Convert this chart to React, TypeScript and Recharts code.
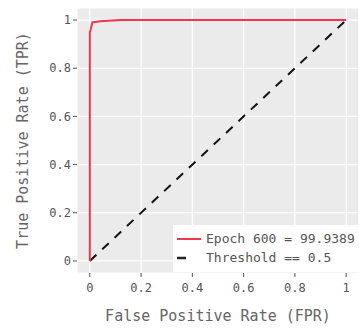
import { CartesianGrid, Line, LineChart, XAxis, YAxis } from "recharts"

const fpr = [0, 0, 0.003, 0.01, 0.04, 0.12, 0.5, 1]
const tpr = [0, 0.95, 0.96, 0.99, 0.995, 1, 1, 1]
const chanceFpr = [0, 1]
const chanceTpr = [0, 1]
const ticks = [0, 0.2, 0.4, 0.6, 0.8, 1]
const epochLabel = "Epoch 600 = 99.9389"
const thresholdLabel = "Threshold == 0.5"

const rocData = fpr.map((x, i) => ({ x, y: tpr[i] }))
const chanceData = chanceFpr.map((x, i) => ({ x, y: chanceTpr[i] }))

const mono = "'DejaVu Sans Mono', monospace"

// legend drawn on top of the panel, bottom right like ggplot's inside legend
function LegendBox() {
  return (
    <div
      style={{
        position: "absolute",
        left: 173,
        top: 225,
        background: "#fff",
        width: 186,
        height: 47,
        fontFamily: mono,
        fontSize: 13,
        color: "#555",
        boxSizing: "border-box",
        padding: "4px 0 0 4px",
      }}
    >
      <div style={{ display: "flex", alignItems: "center", height: 19 }}>
        <svg width={29} height={10}>
          <line x1={0} y1={5} x2={24} y2={5} stroke="#f4364c" strokeWidth={2} />
        </svg>
        <span>{epochLabel}</span>
      </div>
      <div style={{ display: "flex", alignItems: "center", height: 19 }}>
        <svg width={29} height={10}>
          <line x1={0} y1={5} x2={9} y2={5} stroke="#222" strokeWidth={2.5} />
        </svg>
        <span>{thresholdLabel}</span>
      </div>
    </div>
  )
}

export default function App() {
  return (
    <div style={{ position: "absolute", left: 0, top: 0, width: 359, height: 329, background: "#fff" }}>
      <LineChart width={359} height={329} margin={{ top: 8, right: 0, left: 0, bottom: 0 }}>
        <CartesianGrid fill="#ebebeb" stroke="#fff" strokeWidth={1.2} />
        <XAxis
          type="number"
          dataKey="x"
          domain={[-0.05, 1.05]}
          ticks={ticks}
          height={56}
          axisLine={false}
          tickLine={{ stroke: "#555" }}
          tickSize={4}
          tick={{ fontSize: 12, fontFamily: mono, fill: "#555", dy: 4 }}
          label={{
            value: "False Positive Rate (FPR)",
            position: "insideBottom",
            offset: 8,
            style: { fontSize: 15, fontFamily: mono, fill: "#666" },
          }}
        />
        <YAxis
          type="number"
          dataKey="y"
          domain={[-0.05, 1.05]}
          ticks={ticks}
          width={77}
          axisLine={false}
          tickLine={{ stroke: "#555" }}
          tickSize={4}
          tick={{ fontSize: 12, fontFamily: mono, fill: "#555" }}
          label={{
            value: "True Positive Rate (TPR)",
            angle: -90,
            position: "insideLeft",
            offset: 23,
            style: { fontSize: 15, fontFamily: mono, fill: "#666", textAnchor: "middle" },
          }}
        />
        <Line
          data={chanceData}
          dataKey="y"
          stroke="#111"
          strokeWidth={2}
          strokeDasharray="9 8"
          dot={false}
          isAnimationActive={false}
        />
        <Line
          data={rocData}
          dataKey="y"
          stroke="#f4364c"
          strokeWidth={2}
          dot={false}
          isAnimationActive={false}
        />
      </LineChart>
      <LegendBox />
    </div>
  )
}
